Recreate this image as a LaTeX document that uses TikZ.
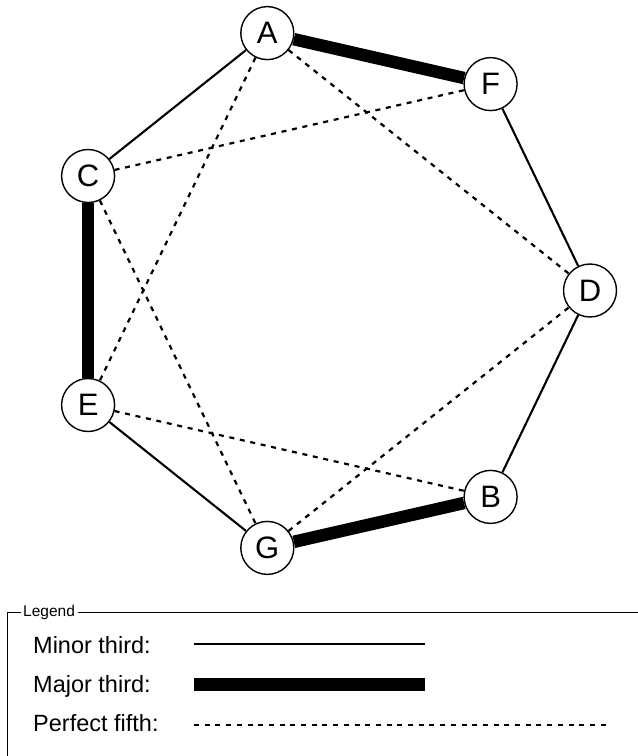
\documentclass[tikz,border=0pt]{standalone}
\usepackage{fontspec}
\setmainfont{Liberation Sans}
\begin{document}
\begin{tikzpicture}[x=1pt,y=-1pt,
  note/.style={circle,draw,line width=1.4pt,fill=white,minimum size=53pt,inner sep=0pt,
    font=\fontsize{31}{36}\selectfont},
  minor/.style={line width=2.1pt},
  major/.style={line width=12.5pt},
  fifth/.style={line width=2.2pt,dash pattern=on 5pt off 5.7pt},
  legendtext/.style={anchor=base west,inner sep=0pt,font=\fontsize{23.5}{28}\selectfont},
  frame/.style={line width=1.4pt}]
\useasboundingbox (0,0) rectangle (638,756);

% the seven notes on a regular heptagon
\node[note] (D) at (590,290.5) {D};
\node[note] (F) at (490.6,84.1) {F};
\node[note] (A) at (267.3,33.1) {A};
\node[note] (C) at (88.1,176) {C};
\node[note] (E) at (88.1,405) {E};
\node[note] (G) at (267.3,547.9) {G};
\node[note] (B) at (490.6,496.9) {B};

% minor thirds
\draw[minor] (A) -- (C);
\draw[minor] (F) -- (D);
\draw[minor] (D) -- (B);
\draw[minor] (G) -- (E);
% major thirds
\draw[major] (A) -- (F);
\draw[major] (C) -- (E);
\draw[major] (G) -- (B);
% perfect fifths
\draw[fifth] (A) -- (E);
\draw[fifth] (A) -- (D);
\draw[fifth] (C) -- (F);
\draw[fifth] (C) -- (G);
\draw[fifth] (E) -- (B);
\draw[fifth] (G) -- (D);

% legend box
\node[anchor=west,inner sep=2.5pt,font=\fontsize{15.5}{18}\selectfont] (lg) at (20.5,612.7) {Legend};
\coordinate (fl) at (20.5,612.7);
\coordinate (fc) at (7.3,612.7);
\coordinate (fb) at (7.3,760);
\coordinate (fr) at (640,612.7);
\draw[frame] (fl) -- (fc) -- (fb);
\draw[frame] (lg.east) -- (fr);

\node[legendtext] (t1) at (33,653.5) {Minor third:};
\node[legendtext] (t2) at (33,692) {Major third:};
\node[legendtext] (t3) at (33,731) {Perfect fifth:};

\coordinate (m1) at (194,644);   \coordinate (m2) at (425,644);
\coordinate (j1) at (194,684.7); \coordinate (j2) at (425,684.7);
\coordinate (p1) at (194,724.7); \coordinate (p2) at (611,724.7);
\draw[minor] (m1) -- (m2);
\draw[major] (j1) -- (j2);
\draw[fifth] (p1) -- (p2);
\end{tikzpicture}
\end{document}
